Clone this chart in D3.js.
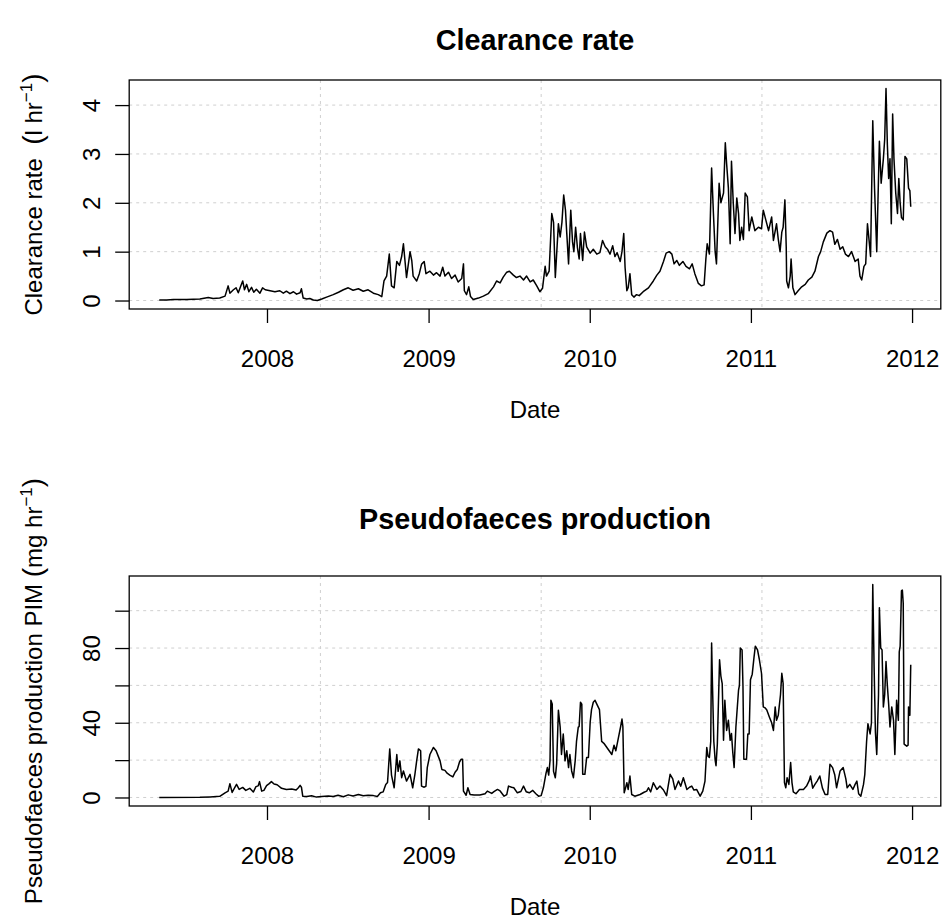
<!DOCTYPE html>
<html>
<head>
<meta charset="utf-8">
<script src="https://cdn.jsdelivr.net/npm/d3@7"></script>
<style>
  body { margin: 0; background: #fff; }
  svg { display: block; }
  text { font-family: "Liberation Sans", Arial, Helvetica, sans-serif; fill: #000; }
</style>
</head>
<body>
<svg id="chart" width="942" height="922"></svg>
<script>
// ---- data -----------------------------------------------------------------
// Series are stored as day offsets from the first observation plus values.
const startDate = "2007-05-02";
const yearTicks = ["2008-01-01", "2009-01-01", "2010-01-01", "2011-01-01", "2012-01-01"];
const yearLabels = ["2008", "2009", "2010", "2011", "2012"];
// vertical grid positions, as days since 1970-01-01
const gridDays = [14000, 14500, 15000];

const clearanceDay = [
  0,17,32,62,92,111,122,137,149,156,
  160,168,174,179,184,189,193,198,203,209,
  214,220,228,234,240,251,262,273,281,288,
  296,304,311,319,322,326,334,341,349,358,
  368,379,394,406,417,428,439,451,462,473,
  485,496,504,509,515,521,526,532,538,544,
  549,553,560,568,572,575,583,589,594,600,
  604,613,621,628,636,642,647,655,662,670,
  677,685,689,691,696,701,705,711,723,734,
  745,757,764,772,779,787,793,802,809,817,
  825,832,840,847,855,862,868,874,877,883,
  889,893,897,904,908,912,916,920,923,927,
  932,936,939,943,947,951,954,959,963,968,
  976,983,991,998,1004,1010,1015,1021,1027,1032,
  1037,1044,1048,1052,1055,1059,1062,1066,1070,1075,
  1081,1087,1096,1108,1119,1127,1134,1142,1148,1155,
  1161,1166,1172,1178,1186,1193,1201,1207,1213,1221,
  1228,1234,1238,1241,1246,1251,1255,1259,1262,1268,
  1272,1275,1278,1282,1285,1289,1293,1296,1300,1304,
  1308,1312,1315,1319,1323,1327,1332,1336,1342,1349,
  1357,1364,1368,1374,1380,1387,1391,1398,1402,1406,
  1410,1413,1417,1420,1421,1425,1429,1431,1435,1440,
  1447,1455,1463,1470,1478,1485,1493,1498,1504,1512,
  1519,1525,1530,1536,1542,1548,1554,1561,1568,1576,
  1583,1587,1591,1596,1600,1604,1608,1611,1616,1620,
  1625,1631,1635,1640,1643,1646,1649,1652,1655,1658,
  1661,1664,1668,1672,1675,1678,1681,1685,1689,1693,
  1697,1700,1702
];
const clearanceRate = [
  0.01,0.01,0.02,0.02,0.03,0.06,0.04,0.05,0.09,0.30,
  0.15,0.22,0.26,0.16,0.28,0.40,0.22,0.33,0.18,0.27,
  0.17,0.23,0.15,0.26,0.22,0.20,0.18,0.20,0.15,0.19,
  0.14,0.18,0.13,0.16,0.24,0.05,0.03,0.04,0.01,0.00,
  0.03,0.07,0.12,0.17,0.22,0.26,0.21,0.24,0.19,0.22,
  0.15,0.12,0.08,0.40,0.50,0.95,0.30,0.26,0.80,0.72,
  0.90,1.16,0.47,1.00,0.81,0.50,0.40,0.55,0.74,0.80,
  0.55,0.60,0.52,0.57,0.50,0.68,0.50,0.58,0.45,0.52,
  0.38,0.45,0.75,0.20,0.12,0.28,0.08,0.02,0.05,0.09,
  0.14,0.28,0.40,0.36,0.48,0.58,0.60,0.52,0.47,0.50,
  0.42,0.50,0.38,0.42,0.30,0.18,0.25,0.70,0.50,0.60,
  1.78,1.60,0.47,1.57,1.30,1.60,2.16,1.85,1.37,0.75,
  1.85,1.20,1.00,1.50,1.09,0.85,1.37,0.82,1.40,1.10,
  0.97,1.05,0.95,0.98,1.23,1.10,1.05,0.95,1.12,0.90,
  0.98,0.80,1.00,1.37,0.68,0.20,0.26,0.55,0.12,0.07,
  0.12,0.10,0.18,0.26,0.40,0.52,0.60,0.80,0.97,1.00,
  0.95,0.75,0.82,0.72,0.80,0.70,0.65,0.75,0.55,0.35,
  0.30,0.32,0.85,1.16,0.95,2.71,1.80,1.00,0.75,2.40,
  2.00,2.10,2.20,3.23,2.80,2.30,1.16,2.85,2.00,1.37,
  2.10,1.78,1.23,1.50,1.25,2.20,2.12,1.43,1.71,1.43,
  1.50,1.47,1.85,1.64,1.43,1.71,1.23,1.57,1.25,1.00,
  1.40,1.50,2.06,1.10,0.40,0.26,0.50,0.85,0.26,0.12,
  0.20,0.28,0.33,0.42,0.48,0.60,0.90,1.00,1.20,1.38,
  1.43,1.40,1.15,1.25,1.05,1.10,0.95,0.90,1.00,0.80,
  0.85,0.50,0.42,0.70,0.75,1.57,1.20,0.90,3.68,2.30,
  1.00,3.26,2.40,2.90,3.30,4.34,3.20,2.50,2.90,1.57,
  3.82,2.90,2.20,1.78,2.50,2.00,1.70,1.65,2.95,2.90,
  2.30,2.25,1.92
];
const clearanceTicks = [0, 1, 2, 3, 4];
const clearanceTickLabels = ["0", "1", "2", "3", "4"];

const pseudoDay = [
  0,92,115,137,149,156,160,165,169,175,
  181,189,196,205,213,219,224,227,232,237,
  243,249,254,260,267,277,288,300,310,315,
  319,322,325,334,345,356,368,383,394,405,
  417,428,439,451,462,473,485,494,501,507,
  513,517,522,526,532,538,541,545,549,553,
  560,568,574,579,583,587,592,594,600,604,
  607,613,621,627,632,636,640,647,652,658,
  665,670,675,680,684,687,689,695,699,704,
  713,726,738,743,753,758,766,772,781,787,
  791,798,803,811,819,825,831,838,846,853,
  859,865,870,876,879,882,885,887,890,893,
  897,900,904,908,911,915,919,923,927,930,
  934,938,942,945,949,951,954,957,959,964,
  968,972,976,979,983,987,991,997,1002,1007,
  1013,1019,1025,1030,1034,1040,1045,1048,1050,1053,
  1056,1059,1062,1066,1070,1077,1089,1098,1104,1108,
  1113,1119,1127,1134,1142,1149,1157,1163,1168,1176,
  1181,1187,1195,1201,1206,1211,1217,1225,1231,1236,
  1240,1243,1246,1249,1251,1253,1256,1259,1261,1264,
  1269,1272,1275,1278,1281,1285,1289,1293,1296,1299,
  1302,1306,1312,1314,1316,1320,1322,1324,1330,1333,
  1336,1339,1343,1347,1350,1355,1359,1364,1368,1372,
  1376,1382,1387,1391,1395,1398,1402,1404,1407,1410,
  1413,1416,1419,1422,1426,1430,1433,1436,1442,1450,
  1459,1466,1472,1475,1480,1485,1490,1496,1502,1508,
  1514,1519,1525,1530,1534,1542,1549,1555,1558,1564,
  1571,1576,1580,1584,1589,1595,1598,1602,1605,1610,
  1613,1616,1619,1622,1625,1629,1631,1634,1637,1640,
  1643,1646,1649,1652,1655,1659,1663,1666,1670,1674,
  1676,1678,1681,1683,1685,1687,1693,1696,1697,1700,
  1702
];
const pseudoPIM = [
  0.0,0.1,0.3,0.6,2.5,3.4,7.4,2.7,4.5,7.0,
  4.3,5.4,3.8,4.9,2.9,5.8,6.2,8.5,3.4,3.8,
  6.3,7.4,8.5,7.2,6.8,4.9,4.3,4.5,4.0,5.2,
  6.5,5.5,0.7,0.5,0.9,0.2,0.5,0.8,0.5,1.2,
  0.4,1.4,0.8,1.6,0.9,1.2,1.0,0.5,2.5,3.0,
  7.0,8.0,26.0,12.0,5.2,23.0,14.0,19.6,10.6,14.2,
  8.8,12.4,5.2,12.4,19.6,26.0,25.0,6.1,5.5,6.0,
  16.0,23.0,26.8,25.0,22.0,19.6,15.0,14.5,13.0,12.0,
  11.0,13.5,15.0,19.0,20.5,20.5,3.4,1.2,5.2,1.6,
  1.3,1.3,2.0,3.4,2.2,3.1,4.3,3.5,0.7,1.5,
  6.1,5.5,5.2,2.5,3.2,6.1,3.1,2.5,3.8,2.0,
  0.7,1.0,5.2,13.0,16.0,12.0,19.6,52.0,50.0,14.0,
  10.6,18.0,46.7,37.7,23.0,34.0,19.6,25.0,16.0,23.0,
  14.2,10.6,19.6,30.0,37.7,38.0,51.0,50.0,12.4,12.4,
  21.4,21.4,40.4,47.0,51.0,52.0,50.0,47.0,30.0,29.0,
  27.0,25.0,23.0,28.0,25.0,32.0,38.0,42.0,38.0,2.5,
  5.0,7.9,4.3,11.5,1.6,0.7,1.6,2.8,3.4,5.2,
  3.0,7.9,4.3,6.1,4.0,1.0,12.4,10.0,4.3,8.8,
  6.0,10.6,4.3,5.5,6.1,4.0,4.3,0.7,3.4,8.8,
  26.8,22.0,21.4,30.0,82.7,60.0,30.0,20.0,17.0,28.8,
  73.7,65.0,61.0,30.6,52.0,35.9,41.3,30.6,34.2,24.0,
  16.0,37.7,57.5,60.0,80.0,79.0,60.0,20.5,20.5,34.0,
  34.0,63.0,66.0,75.0,81.0,79.0,74.0,66.5,48.5,48.0,
  46.8,43.0,40.0,35.9,48.5,41.3,44.0,48.5,55.0,66.5,
  61.0,8.0,5.2,10.6,7.0,18.7,8.0,3.0,2.0,4.3,
  4.3,6.1,9.0,11.5,5.0,7.0,8.8,11.5,5.0,1.6,
  1.6,17.8,16.0,12.0,5.2,14.2,16.0,10.0,5.2,7.0,
  4.3,7.0,8.8,2.0,0.7,7.0,12.4,30.0,39.5,34.0,
  40.0,114.0,70.0,35.0,23.0,55.0,101.6,80.0,79.0,48.5,
  55.0,72.8,60.0,50.0,37.7,48.5,41.3,23.0,52.0,41.3,
  78.0,81.0,110.6,111.0,104.0,28.6,27.5,28.0,48.5,44.0,
  71.0
];
const pseudoTicks = [0, 20, 40, 60, 80, 100];
const pseudoTickLabels = ["0", "", "40", "", "80", ""];

// ---- layout ---------------------------------------------------------------
const svg = d3.select("#chart");
const plotLeft = 129.2, plotRight = 940.8;
const lineH = 29;          // one margin line
const fontSize = 24;
const t0 = new Date(startDate + "T00:00:00Z");
const epoch = Date.UTC(1970, 0, 1);

function rangeWithPad(lo, hi) {
  const r = hi - lo;
  return [lo - 0.04 * r, hi + 0.04 * r];
}

function drawPanel(cfg) {
  const g = svg.append("g");
  const dates = cfg.day.map(d => d3.utcDay.offset(t0, d));
  const pts = dates.map((d, i) => ({ date: d, value: cfg.value[i] }));

  const [dLo, dHi] = d3.extent(dates, d => +d);
  const xDom = rangeWithPad(dLo, dHi).map(v => new Date(v));
  const x = d3.scaleUtc().domain(xDom).range([plotLeft, plotRight]);

  const [vLo, vHi] = d3.extent(cfg.value);
  const y = d3.scaleLinear().domain(rangeWithPad(vLo, vHi)).range([cfg.bottom, cfg.top]);

  // grid
  const grid = g.append("g")
    .attr("stroke", "#cfcfcf")
    .attr("stroke-width", 1)
    .attr("stroke-dasharray", "3,4");
  grid.selectAll("line.h").data(cfg.ticks).join("line")
    .attr("class", "h")
    .attr("x1", plotLeft).attr("x2", plotRight)
    .attr("y1", d => y(d)).attr("y2", d => y(d));
  grid.selectAll("line.v").data(gridDays).join("line")
    .attr("class", "v")
    .attr("x1", d => x(new Date(epoch + d * 864e5)))
    .attr("x2", d => x(new Date(epoch + d * 864e5)))
    .attr("y1", cfg.top).attr("y2", cfg.bottom);

  // series
  const line = d3.line().x(d => x(d.date)).y(d => y(d.value));
  g.append("path")
    .datum(pts)
    .attr("fill", "none")
    .attr("stroke", "#000")
    .attr("stroke-width", 1.5)
    .attr("stroke-linejoin", "round")
    .attr("d", line);

  // frame
  g.append("rect")
    .attr("x", plotLeft).attr("y", cfg.top)
    .attr("width", plotRight - plotLeft).attr("height", cfg.bottom - cfg.top)
    .attr("fill", "none").attr("stroke", "#000").attr("stroke-width", 1.3);

  // x axis
  const yearDates = yearTicks.map(s => new Date(s + "T00:00:00Z"));
  const xAxis = d3.axisBottom(x)
    .tickValues(yearDates)
    .tickFormat((d, i) => yearLabels[i])
    .tickSize(14)
    .tickPadding(2 * lineH - 14 - 0.71 * fontSize);
  const gx = g.append("g")
    .attr("transform", `translate(0,${cfg.bottom})`)
    .call(xAxis);
  gx.select(".domain").remove();
  gx.selectAll(".tick line").attr("stroke", "#000").attr("stroke-width", 1.3);
  gx.selectAll(".tick text")
    .attr("font-size", fontSize)
    .attr("font-family", "Liberation Sans, Arial, sans-serif")
    .attr("fill", "#000");

  // y axis
  const yAxis = d3.axisLeft(y)
    .tickValues(cfg.ticks)
    .tickFormat((d, i) => cfg.tickLabels[i])
    .tickSize(14);
  const gy = g.append("g")
    .attr("transform", `translate(${plotLeft},0)`)
    .call(yAxis);
  gy.select(".domain").remove();
  gy.selectAll(".tick line").attr("stroke", "#000").attr("stroke-width", 1.3);
  gy.selectAll(".tick text")
    .attr("x", null).attr("dy", null)
    .attr("text-anchor", "middle")
    .attr("transform", `translate(${-lineH},0) rotate(-90)`)
    .attr("font-size", fontSize)
    .attr("font-family", "Liberation Sans, Arial, sans-serif")
    .attr("fill", "#000");

  // x title
  g.append("text")
    .attr("x", (plotLeft + plotRight) / 2)
    .attr("y", cfg.bottom + 109)
    .attr("text-anchor", "middle")
    .attr("font-size", fontSize)
    .text("Date");

  // main title, centred in the top margin
  g.append("text")
    .attr("x", (plotLeft + plotRight) / 2)
    .attr("y", cfg.titleY)
    .attr("text-anchor", "middle")
    .attr("font-size", fontSize * 1.2)
    .attr("font-weight", "bold")
    .text(cfg.title);

  // y title with superscript unit
  const yt = g.append("text")
    .attr("transform", `translate(${plotLeft - 3 * lineH},${(cfg.top + cfg.bottom) / 2}) rotate(-90)`)
    .attr("text-anchor", "middle")
    .attr("font-size", fontSize);
  yt.append("tspan").text(cfg.ylabel);
  yt.append("tspan").attr("font-size", 28).text("(");
  yt.append("tspan").text(cfg.unit);
  yt.append("tspan").attr("font-size", 17).attr("dy", -10).text("\u22121");
  yt.append("tspan").attr("font-size", 28).attr("dy", 10).text(")");
}

drawPanel({
  title: "Clearance rate",
  ylabel: "Clearance rate\u00A0\u00A0",
  unit: "l hr",
  day: clearanceDay,
  value: clearanceRate,
  ticks: clearanceTicks,
  tickLabels: clearanceTickLabels,
  top: 80, bottom: 309, titleY: 50
});

drawPanel({
  title: "Pseudofaeces production",
  ylabel: "Pseudofaeces production PIM ",
  unit: "mg hr",
  day: pseudoDay,
  value: pseudoPIM,
  ticks: pseudoTicks,
  tickLabels: pseudoTickLabels,
  top: 576, bottom: 806, titleY: 529
});
</script>
</body>
</html>
